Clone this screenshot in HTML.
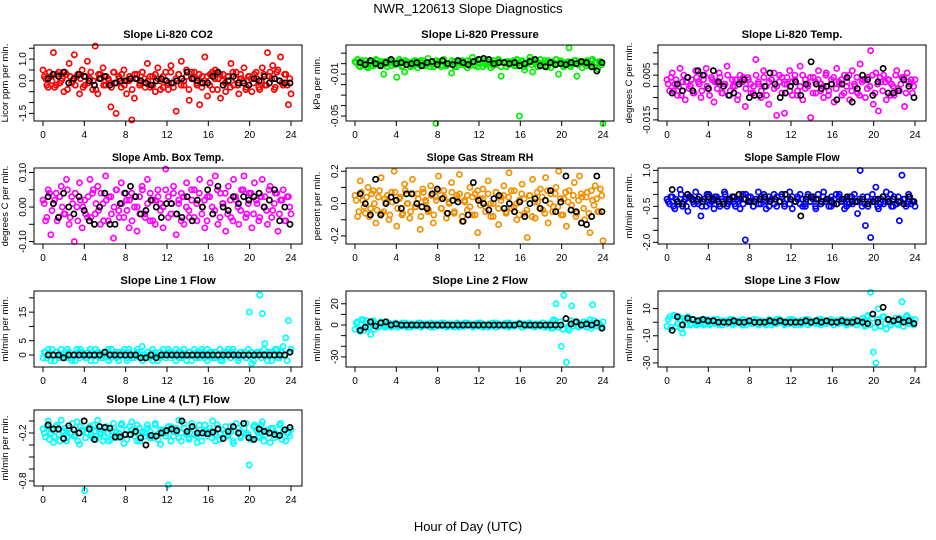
<!DOCTYPE html>
<html><head><meta charset="utf-8"><style>
body{margin:0;background:#fff}
svg{display:block;font-family:"Liberation Sans",sans-serif}
</style></head><body>
<svg id="chart" width="936" height="540" viewBox="0 0 936 540">
<text x="468" y="13" text-anchor="middle" font-size="13">NWR_120613  Slope Diagnostics</text>
<text x="468" y="531" text-anchor="middle" font-size="13">Hour of Day (UTC)</text>
</svg>
<script>
const xTicks=[0,4,8,12,16,20,24];
const xTickLabels=["0","4","8","12","16","20","24"];
const co2Col=[0.5,0.1,-0.3,0.2,1.3,-0.2,0.4,0.0,-0.5,0.3,0.8,-0.1,1.2,0.2,-0.6,0.5,-0.2,0.9,0.1,-0.4,1.6,-0.6,0.3,0.6,-0.2,0.1,-1.2,0.4,-1.5,0.2,-0.3,0.5,-0.6,0.0,-1.8,-0.8,0.3,-0.2,0.4,0.1,0.8,-0.3,0.2,-0.5,0.6,0.0,-0.3,0.4,-0.4,0.7,-0.1,-1.4,0.3,0.9,-0.2,0.5,-0.9,0.1,0.4,-0.2,-1.1,0.2,1.1,-0.7,0.3,-0.4,0.5,0.1,-0.8,0.3,-0.5,0.2,0.8,-0.2,0.4,-0.6,0.1,0.6,-0.3,0.2,-0.5,0.3,0.1,-0.4,0.6,-0.2,1.3,0.4,0.7,-0.3,0.5,1.1,-0.2,0.3,-1.1,-0.6];
const co2Band=[0.2,-0.2,0.4,0.0,-0.3,0.3,-0.1,0.1,0.4,-0.4,0.2,0.0,-0.2,0.3,0.1,-0.3,0.2,-0.1,0.4,0.0,-0.4,0.3,0.1,-0.2,0.2,0.0,-0.3,0.4,-0.1,0.1,0.3,-0.2,0.0,0.2,-0.4,0.3,0.1,-0.1,0.4,-0.3,0.0,0.2,-0.2,0.3,0.1,-0.4,0.2,0.0,-0.1,0.4,-0.3,0.1,0.3,-0.2,0.0,0.2,-0.4,0.4,0.1,-0.1,0.3,-0.3,0.0,0.2,-0.2,0.4,0.1,-0.4,0.3,0.0,-0.1,0.2,-0.3,0.4,0.1,-0.2,0.3,0.0,-0.4,0.2,0.1,-0.1,0.4,-0.3,0.0,0.3,-0.2,0.2,0.1,-0.4,0.4,0.0,-0.1,0.3,-0.2,0.1];
const co2Blk=[0.1,0.3,0.2,0.4,-0.1,0.1,0.3,0.2,0.0,-0.2,0.1,0.2,-0.2,-0.1,0.0,0.0,0.1,0.1,0.0,-0.1,-0.2,0.0,0.1,0.0,-0.1,0.0,0.1,0.4,0.1,0.0,-0.1,-0.1,0.2,0.4,-0.2,0.0,0.2,-0.1,-0.1,-0.2,0.1,0.0,0.2,-0.1,0.1,0.0,-0.1,-0.1];
const presCol=[.002,.004,-.003,.000,.003,-.004,.001,-.002,.004,-.001,.002,-.010,.000,.003,-.002,.001,-.013,.004,-.003,-.008,.002,.000,-.002,.003,-.004,.001,.003,-.002,.005,-.003,.000,-.057,.002,-.003,.004,-.001,.000,-.009,.002,-.003,.001,.003,.000,-.004,.002,.006,-.002,.001,.004,-.003,.000,.002,-.004,.003,-.001,.004,-.012,.001,-.003,.002,.000,-.002,.004,-.050,.003,-.006,.001,.006,-.008,.002,-.003,.004,.001,-.002,.003,-.004,.000,.004,-.010,.002,-.003,.001,.015,-.001,.003,-.012,.002,-.004,.000,.003,-.002,.004,.001,-.005,.002,-.057];
const presBand=[.001,-.002,.003,.000,-.003,.002,-.001,.001,.003,-.002,.000,.002,-.003,.001,.003,-.001,.000,.002,-.002,.003,.001,-.003,.002,.000,-.001,.003,-.002,.001,.000,.002,-.003,.003,.001,-.001,.002,-.002,.000,.003,-.003,.001,.002,-.001,.000,.003,-.002,.001,.002,-.003,.000,.003,-.001,.001,.002,-.002,.000,.003,-.003,.001,.002,-.001,.000,.003,-.002,.001,.002,-.003,.000,.003,-.001,.001,.002,-.002,.000,.003,-.003,.001,.002,-.001,.000,.003,-.002,.001,.002,-.003,.000,.003,-.001,.001,.002,-.002,.000,.003,-.003,.001,.002,-.001];
const presBlk=[.001,-.001,.003,.000,-.002,.001,.004,.000,.001,-.001,.000,.001,-.002,.001,.002,-.001,.003,.000,-.001,.003,.001,-.001,.002,.004,.005,.004,.000,.001,.001,.000,.001,-.002,.000,.002,.004,-.002,-.003,.001,-.001,.000,-.001,.001,.000,.002,.001,-.003,-.007,.001];
const tempCol=[.003,-.002,.006,.001,-.004,.008,.002,-.006,.004,.000,-.003,.007,.002,-.005,.003,.008,-.001,.004,-.007,.002,.006,-.003,.001,.009,-.004,.003,.000,-.006,.005,.002,-.009,.004,.001,-.003,.012,.002,-.005,.007,.000,-.008,.003,.006,-.013,.002,.004,-.012,.001,.007,-.004,.005,-.002,.009,-.006,.003,.000,-.014,.004,-.003,.007,.001,-.005,.006,-.002,.003,-.007,.008,.001,-.004,.005,.002,-.006,.007,.000,-.003,.010,.003,-.005,.004,.016,-.008,.006,-.011,.002,.005,-.006,.003,.001,-.004,.007,-.002,.004,-.009,.006,.001,-.003,.003];
const tempBand=[.001,.004,-.002,.003,.000,-.004,.005,.002,-.001,.003,-.003,.004,.001,-.002,.005,.000,-.004,.003,.002,-.001,.004,-.003,.001,.005,-.002,.000,.003,-.004,.002,.004,-.001,.003,-.003,.000,.005,.001,-.002,.004,-.004,.002,.003,-.001,.000,.005,-.003,.001,.004,-.002,.002,.003,-.004,.000,.005,-.001,.001,.004,-.003,.002,.003,-.002,.000,.005,-.004,.001,.004,-.001,.002,.003,-.003,.000,.005,-.002,.001,.004,-.004,.002,.003,-.001,.000,.005,-.003,.001,.004,-.002,.002,.003,-.004,.000,.005,-.001,.001,.004,-.003,.002,.003,.000];
const tempBlk=[-.003,.001,-.002,.004,-.002,.007,.005,-.001,.007,.002,.000,-.004,-.003,.001,.003,-.005,-.004,-.004,.000,.006,.001,-.005,-.003,.000,.002,-.004,.001,.011,.001,-.001,.000,.001,-.006,.001,.004,-.007,-.001,.005,.003,-.004,.002,.008,-.003,-.003,-.002,.003,.000,-.005];
const boxCol=[.02,-.04,.05,-.08,.01,.04,-.03,.06,-.02,.08,-.05,.03,-.10,.00,.07,-.06,.02,-.03,.08,.04,-.02,.06,-.05,.01,.09,-.04,.03,-.09,.05,-.01,.07,-.03,.02,-.06,.04,.00,-.07,.03,.06,-.02,.08,-.04,.02,-.05,.05,.01,-.06,.11,.03,-.02,.06,-.08,.01,.04,-.05,.07,-.03,.02,.05,-.04,.08,.00,-.06,.03,.07,-.02,.09,-.05,.04,.01,-.07,.06,-.03,.08,.02,-.05,.05,.09,-.02,.04,-.06,.07,.01,-.03,.08,.03,-.05,.06,-.01,.04,-.07,.02,.05,-.04,.03,-.02];
const boxBand=[.01,-.03,.04,-.01,.02,-.04,.03,.00,-.02,.05,-.03,.01,.04,-.04,.02,.00,-.02,.03,-.03,.05,.01,-.01,.04,-.04,.02,.03,-.02,.00,.05,-.03,.01,.04,-.01,.02,-.04,.03,.00,-.02,.05,-.03,.01,.04,-.04,.02,.03,-.01,.00,.05,-.03,.01,.04,-.02,.02,-.04,.03,.00,-.01,.05,-.03,.01,.04,-.02,.02,-.04,.03,.00,-.01,.05,-.03,.01,.04,-.02,.02,-.04,.03,.00,-.01,.05,-.03,.01,.04,-.02,.02,-.04,.03,.00,-.01,.05,-.03,.01,.04,-.02,.02,-.04,.03,.00];
const boxBlk=[.03,.01,-.03,.04,.00,-.02,.03,-.01,-.04,-.05,.00,.04,-.05,-.05,.01,.04,.06,.03,-.02,-.01,.02,.00,-.03,.01,.01,-.02,-.03,.03,-.04,.02,.00,.05,-.02,.06,.00,-.01,.03,.01,.03,.02,.03,.04,.00,.02,.05,-.04,.00,-.05];
const rhCol=[.05,-.08,.14,.02,-.06,.10,-.03,.08,-.12,.04,.16,-.05,.01,-.10,.07,.20,-.14,.03,-.07,.12,.00,-.09,.15,-.02,.06,-.16,.09,.02,-.05,.11,-.12,.04,.17,-.03,.08,-.09,.01,.13,-.06,.05,.18,-.11,.02,-.04,.10,-.07,.06,-.18,.03,.09,-.02,.14,-.08,.00,.07,-.13,.04,.11,-.05,.19,-.03,.08,-.10,.02,.12,-.06,-.21,.05,.15,-.09,.01,.09,-.04,.16,-.12,.06,-.02,.10,.20,-.07,.03,-.14,.08,-.01,.13,-.06,.17,.04,-.10,.07,-.18,.02,.11,-.05,.09,-.23];
const rhBand=[.02,-.05,.07,-.02,.04,-.08,.06,.00,-.04,.08,-.06,.03,.05,-.07,.01,.07,-.03,.04,-.06,.08,.00,-.05,.06,-.02,.03,-.08,.07,.01,-.04,.05,-.07,.02,.08,-.03,.04,-.06,.00,.07,-.05,.03,.06,-.08,.01,.05,-.02,.04,-.07,.08,-.01,.03,-.05,.06,.00,-.08,.07,-.03,.02,.05,-.06,.04,.08,-.02,.00,-.07,.06,.03,-.04,.05,-.08,.01,.07,-.03,.04,-.06,.08,.00,-.05,.06,-.02,.03,-.07,.07,.01,-.04,.05,-.08,.02,.06,-.03,.04,-.06,.08,-.01,.03,-.05,.05];
const rhBlk=[.06,.00,-.07,.15,-.07,.00,.04,.02,-.03,.06,.06,.00,-.02,-.03,.06,.09,.03,-.06,.02,.01,-.11,-.07,.13,.02,.00,-.04,.03,.05,-.03,.00,-.05,.01,-.08,.00,.03,-.03,.02,.08,-.05,.01,.17,-.04,-.05,-.12,-.13,-.08,.17,-.05];
const sampCol=[-.2,-.4,-.1,-.6,-.3,.2,-.5,-.2,-.7,-.1,-.3,.1,-.4,-.9,-.2,-.5,.0,-.3,-.6,-.1,-.4,-.2,.1,-.5,-.3,-.1,-.4,-.2,-.6,.0,-1.9,-.3,-.1,-.5,-.2,.1,-.4,-.3,-.6,-.1,-.2,.0,-.5,-.3,-.1,-.4,-.2,.1,-.6,-.3,-.1,-.4,-.2,-.5,.0,-.3,-.1,-.6,-.2,-.4,.1,-.3,-.5,-.1,-.2,-.4,.0,-.3,-.6,-.2,-.1,-.4,-.3,-.8,1.0,-.1,-1.3,-.5,-1.8,-.3,.3,-.6,-.2,-.4,.1,-.3,-.5,-.1,-.4,-1.1,.8,-.2,-.4,-.1,-.3,-.5];
const sampBand=[-.3,-.1,-.5,-.2,-.4,.0,-.3,-.5,-.1,-.2,-.4,-.3,-.1,-.5,-.2,.0,-.4,-.3,-.1,-.2,-.5,-.3,.0,-.4,-.2,-.1,-.5,-.3,-.2,-.4,.0,-.1,-.3,-.5,-.2,-.4,-.1,.0,-.3,-.5,-.2,-.4,-.1,-.3,.0,-.5,-.2,-.4,-.1,-.3,-.2,.0,-.5,-.4,-.1,-.3,-.2,-.5,.0,-.4,-.1,-.3,-.2,-.5,-.4,.0,-.1,-.3,-.2,-.5,-.4,-.1,.0,-.3,-.2,-.5,-.4,-.1,-.3,.0,-.2,-.5,-.4,-.1,-.3,-.2,.0,-.5,-.4,-.1,-.3,-.2,-.5,.0,-.4,-.3];
const sampBlk=[.2,-.3,-.4,.0,-.2,-.2,-.3,-.1,-.2,-.3,-.4,-.2,-.1,.0,-.2,-.3,-.3,-.2,-.1,-.3,-.2,-.3,.0,-.2,-.3,-.9,-.2,-.1,-.2,-.3,-.2,-.3,-.4,-.2,-.1,-.3,-.3,-.2,-.4,-.3,-.2,-.1,-.3,-.2,-.3,-.4,-.1,-.3];
const l1Col=[-1,1,2,-2,0,1,-1,2,0,-1,1,-2,0,2,-1,1,0,-1,2,0,-2,1,0,-1,1,2,-1,0,1,-2,0,1,-1,2,0,-1,1,0,3,-1,1,0,-2,1,0,-1,2,0,1,-1,0,2,-1,1,0,-2,1,0,2,-1,0,1,-1,2,0,-1,1,0,-2,1,0,2,-1,1,0,-1,0,1,-1,15,-3,0,1,21,14.5,4,-2,1,0,2,-1,1,3,6,12,2];
const l1Band=[1,-1,0,2,-2,1,0,-1,1,2,-1,0,-2,1,2,0,-1,1,-2,0,2,1,-1,0,1,-2,2,0,-1,1,0,2,-2,1,-1,0,2,1,-2,0,1,-1,2,0,-2,1,0,-1,2,1,0,-2,1,-1,2,0,1,-2,0,1,-1,2,0,-2,1,1,-1,0,2,-2,0,1,-1,2,0,-2,1,0,-1,2,1,-2,0,1,-1,2,0,1,-2,0,2,-1,1,0,-2,1];
const l1Blk=[0,0,0,-1,0,0,0,0,0,0,0,1,0,0,0,0,0,0,-1,-1,0,-1,0,0,0,0,0,0,0,0,0,0,0,0,0,0,0,0,0,0,0,0,0,0,0,0,0,1];
const l2Col=[-4,3,-6,5,2,-3,-9,4,1,-2,3,0,-1,2,-2,1,0,-1,2,0,-2,1,0,-1,1,2,-1,0,1,-2,0,1,-1,2,0,-1,1,0,-2,1,0,-1,2,0,1,-1,0,2,-1,1,0,-2,1,0,2,-1,0,1,-1,2,0,-1,1,0,-2,1,0,2,-1,1,0,-1,2,0,1,-3,5,20,-2,-20,28,-35,-5,18,3,-1,2,0,1,-2,5,19,2,-1,0,3];
const l2Band=[2,-3,5,-5,4,-2,3,-4,1,-1,2,-2,1,0,-1,2,-2,1,-1,2,0,-2,1,-1,2,-2,0,1,-1,2,-2,1,0,-1,2,-2,1,-1,0,2,-2,1,-1,2,0,-2,1,-1,2,-2,0,1,-1,2,-2,1,0,-1,2,-2,1,-1,0,2,-2,1,-1,2,0,-2,1,-1,2,-2,0,1,-3,4,-2,3,-4,2,-3,4,-1,2,-2,1,3,-2,2,-3,4,-1,2,-2];
const l2Blk=[-5,-2,3,-1,2,3,0,1,0,0,0,0,0,0,0,0,0,0,0,0,0,0,0,0,0,0,0,0,0,0,0,1,0,0,0,0,0,0,0,0,6,1,3,0,1,0,2,-3];
const l3Col=[-3,4,-6,5,-1,2,-8,3,4,-2,2,0,-1,2,-2,1,0,-1,2,0,-2,1,0,-1,1,2,-1,0,1,-2,0,1,-1,2,0,-1,1,0,-2,1,0,-1,2,0,1,-1,0,2,-1,1,0,-2,1,0,2,-1,0,1,-1,2,0,-1,1,0,-2,1,0,2,-1,1,0,-1,2,0,1,3,-2,5,22,-22,-30,10,-3,4,-5,2,0,1,-1,3,15,2,5,-1,0,2];
const l3Band=[2,-4,5,-3,4,-5,3,-2,1,-1,2,-2,1,0,-1,2,-2,1,-1,2,0,-2,1,-1,2,-2,0,1,-1,2,-2,1,0,-1,2,-2,1,-1,0,2,-2,1,-1,2,0,-2,1,-1,2,-2,0,1,-1,2,-2,1,0,-1,2,-2,1,-1,0,2,-2,1,-1,2,0,-2,1,-1,2,-2,0,1,-3,4,-2,3,-4,2,-3,4,-1,2,-2,1,3,-2,2,-3,4,-1,2,-2];
const l3Blk=[-6,4,-2,3,2,1,2,1,1,0,0,0,1,0,0,1,0,0,0,1,0,1,0,0,0,0,1,0,1,0,1,0,0,1,0,0,1,0,-1,6,0,11,2,1,2,0,1,-1];
const l4Col=[-.15,-.25,-.05,-.2,-.32,-.12,-.22,-.04,-.18,-.3,-.14,-.2,-.24,-.06,-.34,-.16,-.92,-.2,-.12,-.26,-.18,-.04,-.22,-.3,-.14,-.2,-.28,-.08,-.18,-.24,-.1,-.33,-.16,-.22,-.06,-.2,-.3,-.14,-.2,-.24,-.1,-.18,-.26,-.08,-.22,-.34,-.16,-.2,-.85,-.12,-.24,-.18,-.04,-.3,-.14,-.2,-.26,-.08,-.22,-.32,-.16,-.2,-.1,-.24,-.18,-.05,-.3,-.14,-.2,-.26,-.12,-.22,-.18,-.33,-.08,-.2,-.24,-.14,-.2,-.6,-.28,-.1,-.18,-.26,-.06,-.22,-.16,-.32,-.14,-.2,-.24,-.08,-.18,-.3,-.2,-.16];
const l4Band=[-.2,-.12,-.28,-.16,-.24,-.1,-.3,-.18,-.14,-.26,-.2,-.08,-.22,-.3,-.12,-.18,-.26,-.14,-.22,-.1,-.28,-.16,-.2,-.24,-.12,-.3,-.18,-.14,-.26,-.2,-.08,-.22,-.28,-.12,-.16,-.24,-.1,-.3,-.18,-.2,-.14,-.26,-.22,-.1,-.28,-.16,-.2,-.24,-.12,-.3,-.18,-.14,-.26,-.2,-.08,-.22,-.28,-.12,-.16,-.24,-.1,-.3,-.18,-.2,-.14,-.26,-.22,-.1,-.28,-.16,-.2,-.24,-.12,-.3,-.18,-.14,-.26,-.2,-.08,-.22,-.28,-.12,-.16,-.24,-.1,-.3,-.18,-.2,-.14,-.26,-.22,-.1,-.28,-.16,-.2,-.24];
const l4Blk=[-.1,-.15,-.15,-.27,-.11,-.16,-.2,-.05,-.15,-.28,-.12,-.13,-.14,-.25,-.25,-.22,-.22,-.18,-.26,-.35,-.23,-.24,-.2,-.17,-.15,-.17,-.05,-.18,-.12,-.2,-.2,-.21,-.19,-.15,-.27,-.18,-.12,-.2,-.08,-.26,-.28,-.15,-.18,-.2,-.22,-.23,-.16,-.13];

const panels=[
 {name:"co2",title:"Slope Li-820 CO2",yl:"Licor ppm per min.",col:0,row:0,dom:[-1.85,1.65],ticks:[1.5,1,0.5,0,-0.5,-1,-1.5],labs:["","1.0","","0.0","","","-1.5"],color:"#ff0000",c:co2Col,d:co2Band,b:co2Blk},
 {name:"pressure",title:"Slope Li-820 Pressure",yl:"kPa per min.",col:1,row:0,dom:[-0.0547,0.0178],ticks:[.01,0,-.01,-.02,-.03,-.04,-.05],labs:["","","-0.01","","","","-0.05"],color:"#00ee00",c:presCol,d:presBand,b:presBlk},
 {name:"temp",title:"Slope Li-820 Temp.",yl:"degrees C per min.",col:2,row:0,dom:[-0.0155,0.0185],ticks:[.015,.01,.005,0,-.005,-.01,-.015],labs:["","","0.005","","","","-0.015"],color:"#ff00ff",c:tempCol,d:tempBand,b:tempBlk},
 {name:"box-temp",title:"Slope Amb. Box Temp.",yl:"degrees C per min.",col:0,row:1,dom:[-0.107,0.113],ticks:[.1,.05,0,-.05,-.1],labs:["0.10","","0.00","","-0.10"],color:"#ff00ff",c:boxCol,d:boxBand,b:boxBlk},
 {name:"rh",title:"Slope Gas Stream RH",yl:"percent per min.",col:1,row:1,dom:[-0.25,0.22],ticks:[.2,.1,0,-.1,-.2],labs:["0.2","","0.0","","-0.2"],color:"#f29000",c:rhCol,d:rhBand,b:rhBlk},
 {name:"sample-flow",title:"Slope Sample Flow",yl:"ml/min per min.",col:2,row:1,dom:[-2.07,1.1],ticks:[1,.5,0,-.5,-1,-1.5,-2],labs:["1.0","","","-0.5","","","-2.0"],color:"#0000ff",c:sampCol,d:sampBand,b:sampBlk},
 {name:"line1",title:"Slope Line 1 Flow",yl:"ml/min per min.",col:0,row:2,dom:[-4.2,22.4],ticks:[20,15,10,5,0],labs:["","15","","5","0"],color:"#00ffff",c:l1Col,d:l1Band,b:l1Blk},
 {name:"line2",title:"Slope Line 2 Flow",yl:"ml/min per min.",col:1,row:2,dom:[-39.5,32],ticks:[20,10,0,-10,-20,-30],labs:["20","","0","","","-30"],color:"#00ffff",c:l2Col,d:l2Band,b:l2Blk},
 {name:"line3",title:"Slope Line 3 Flow",yl:"ml/min per min.",col:2,row:2,dom:[-33,23],ticks:[10,0,-10,-20,-30],labs:["10","","-10","","-30"],color:"#00ffff",c:l3Col,d:l3Band,b:l3Blk},
 {name:"line4",title:"Slope Line 4 (LT) Flow",yl:"ml/min per min.",col:0,row:3,dom:[-0.8625,0.0875],ticks:[-0.05,-0.2,-0.35,-0.5,-0.65,-0.8],labs:["","-0.2","","","","-0.8"],color:"#00ffff",c:l4Col,d:l4Band,b:l4Blk}
];
const rowTops=[45,168,291,410];
const NS="http://www.w3.org/2000/svg";
const svg=document.getElementById("chart");
function mk(tag,attrs,parent){const e=document.createElementNS(NS,tag);for(const k in attrs)e.setAttribute(k,attrs[k]);parent.appendChild(e);return e;}
panels.forEach(p=>{
 const L=34+312*p.col,R=L+268,T=rowTops[p.row],B=T+76;
 const g=mk("g",{},svg);
 
 
 const xs=h=>L+9+h*248/24;
 const ys=v=>B-(v-p.dom[0])/(p.dom[1]-p.dom[0])*76;
 const t=mk("text",{x:(L+R)/2,y:T-7,"text-anchor":"middle","font-size":"11","font-weight":"bold",textLength:p.title.length*5.6,lengthAdjust:"spacingAndGlyphs"},g);
 t.textContent=p.title;
 
 
 const yl=mk("text",{x:0,y:0,"text-anchor":"middle","font-size":"9.5",transform:`translate(${L-26},${(T+B)/2}) rotate(-90)`},g);
 yl.textContent=p.yl;
 
 
 const pts=mk("g",{},g);
 const n=p.c.length, nd=p.d.length;
 p.d.forEach((v,i)=>{
  const c=mk("circle",{cx:xs(0.12+i*23.76/(nd-1)),cy:ys(v),r:2.6,fill:"none",stroke:p.color,"stroke-width":1.7},pts);
  
  
 });
 p.c.forEach((v,i)=>{
  const c=mk("circle",{cx:xs(i*24/(n-1)),cy:ys(v),r:2.6,fill:"none",stroke:p.color,"stroke-width":1.7},pts);
  
  
 });
 const m=p.b.length;
 p.b.forEach((v,i)=>{
  const c=mk("circle",{cx:xs(0.5+i*23.4/(m-1)),cy:ys(v),r:2.6,fill:"none",stroke:"#000","stroke-width":1.7},pts);
  
  
 });
 const box=mk("rect",{x:L,y:T,width:R-L,height:B-T,fill:"none",stroke:"#000","stroke-width":1},g);
 
 
 xTicks.forEach((h,i)=>{
  mk("line",{x1:xs(h),x2:xs(h),y1:B,y2:B+5,stroke:"#000"},g);
  const tl=mk("text",{x:xs(h),y:B+17,"text-anchor":"middle","font-size":"10"},g);
  tl.textContent=xTickLabels[i];
  
  
 });
 p.ticks.forEach((v,i)=>{
  mk("line",{x1:L-5,x2:L,y1:ys(v),y2:ys(v),stroke:"#000"},g);
  if(p.labs[i]){
   const tl=mk("text",{x:0,y:0,"text-anchor":"middle","font-size":"10",transform:`translate(${L-8},${ys(v)}) rotate(-90)`},g);
   tl.textContent=p.labs[i];
   
   
  }
 });
});
</script>
</body></html>
